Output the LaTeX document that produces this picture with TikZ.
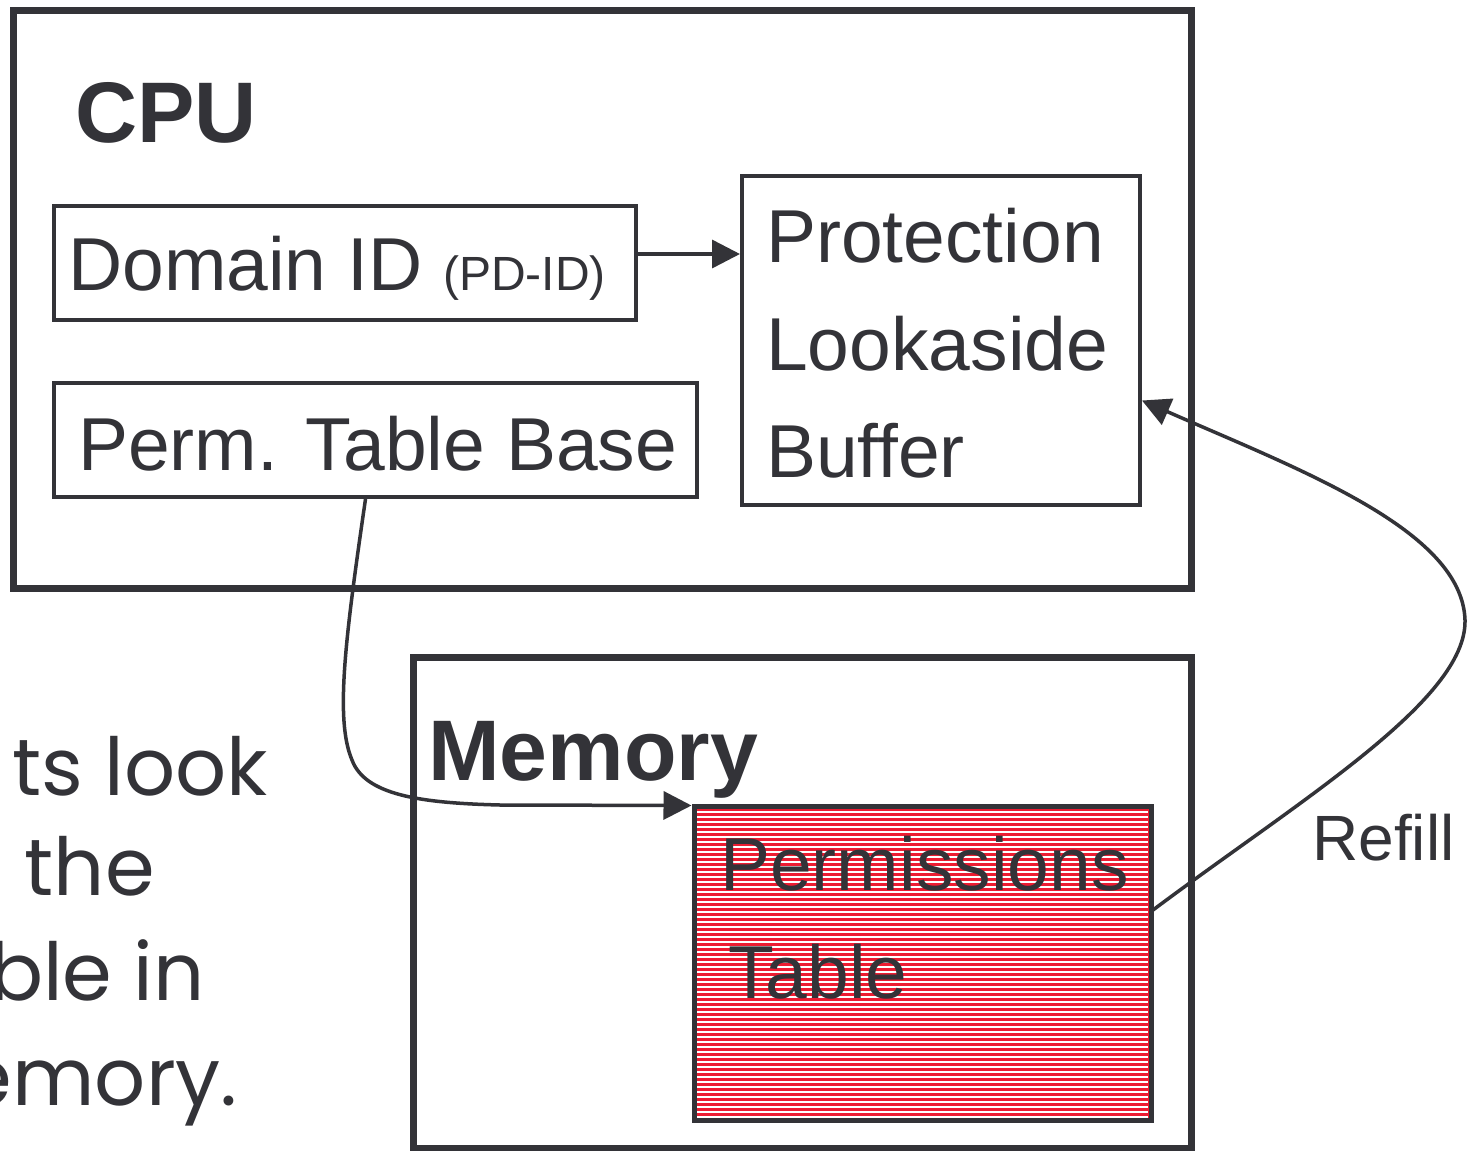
\documentclass[tikz,border=0pt]{standalone}
\usepackage{fontspec}
\setmainfont{Liberation Sans}
\newfontfamily\handfont{Poppins}
\usetikzlibrary{arrows.meta}
\definecolor{ink}{RGB}{51,51,56}
\definecolor{tred}{RGB}{237,28,50}
\begin{document}
\begin{tikzpicture}[x=1pt,y=-1pt,
  box/.style={draw=ink, inner sep=0, line width=4pt},
  bigbox/.style={draw=ink, inner sep=0, line width=7pt},
  lbl/.style={inner sep=0, anchor=base west, text=ink},
  hand/.style={inner sep=0, anchor=base east, text=ink, font=\handfont\fontsize{80}{90}\selectfont},
  arr/.style={draw=ink, line width=3.5pt, -{Triangle[length=28pt,width=28pt]}},
  big/.style={font=\fontsize{75}{80}\selectfont},
  bold/.style={font=\bfseries\fontsize{86}{90}\selectfont}]
\useasboundingbox (0,0) rectangle (1467,1151);
\fill[white] (0,0) rectangle (1467,1151);

% CPU
\node[bigbox, minimum width=1178pt, minimum height=578pt] (cpu) at (602,299) {};
\node[lbl, bold] (cputxt) at (75,142) {CPU};
\node[box, minimum width=582pt, minimum height=114pt] (dom) at (345,263) {};
\node[lbl, big] (domtxt) at (68,290) {Domain ID \fontsize{48}{52}\selectfont(PD-ID)};
\node[box, minimum width=643pt, minimum height=114pt] (perm) at (375.5,440) {};
\node[lbl, big] (permtxt) at (78,470) {Perm. Table Base};
\node[box, minimum width=398pt, minimum height=329pt] (plb) at (941,340.5) {};
\node[lbl, big] (plb1) at (766,262) {Protection};
\node[lbl, big] (plb2) at (766,370) {Lookaside};
\node[lbl, big] (plb3) at (766,477) {Buffer};

% Memory
\node[bigbox, minimum width=778pt, minimum height=491pt] (mem) at (802,902.5) {};
\node[lbl, bold] (memtxt) at (428,780) {Memory};
\node[draw=ink, fill=tred, inner sep=0, line width=5pt, minimum width=457pt, minimum height=314pt] (tab) at (922.5,963) {};
\foreach \y in {812,817,...,1117} \draw[white, line width=1.2pt] (697,\y) -- (1148,\y);
\node[lbl, big] (tab1) at (720,890) {Permissions};
\node[lbl, big] (tab2) at (728,998) {Table};

% arrows
\draw[arr] ([yshift=9pt]dom.east) -- ([yshift=9pt]dom.east -| plb.west);
\draw[arr] ([xshift=-10pt]perm.south) .. controls (345,640) and (335,720) .. (352,760)
  .. controls (365,795) and (420,803) .. (500,805) -- ([yshift=-2pt]tab.north west);
\coordinate (refa) at (1153,910);
\draw[arr] (refa) .. controls (1300,800) and (1467,700) .. (1465,620)
  .. controls (1462,530) and (1300,470) .. ([yshift=-60pt]plb.east);
\node[lbl, font=\fontsize{64}{70}\selectfont] (refill) at (1312,860) {Refill};

% hand text (cut off at the left)
\begin{scope}
\clip (0,0) rectangle (1467,1151);
\node[hand] (h1) at (268,795) {ts look};
\node[hand] (h2) at (155,895) {the};
\node[hand] (h3) at (205,1000) {ble in};
\node[hand] (h4) at (238,1105) {emory.};
\end{scope}
\end{tikzpicture}
\end{document}
